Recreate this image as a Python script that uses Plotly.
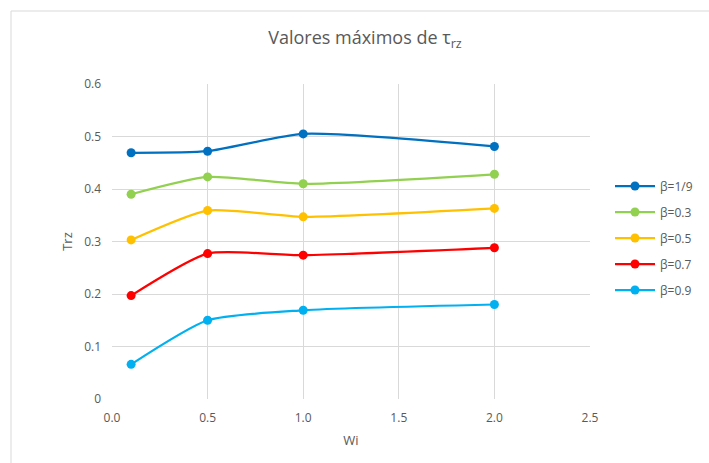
import plotly.graph_objects as go

wi = [0.1, 0.5, 1.0, 2.0]
series_names = ["β=1/9", "β=0.3", "β=0.5", "β=0.7", "β=0.9"]
beta_1_9 = [0.469, 0.472, 0.505, 0.481]
beta_0_3 = [0.390, 0.423, 0.410, 0.428]
beta_0_5 = [0.303, 0.359, 0.347, 0.363]
beta_0_7 = [0.197, 0.277, 0.274, 0.288]
beta_0_9 = [0.066, 0.150, 0.169, 0.180]
colors = ["#0070C0", "#92D050", "#FFC000", "#FF0000", "#00B0F0"]

fig = go.Figure()
for i, (name, vals, c) in enumerate(zip(series_names, [beta_1_9, beta_0_3, beta_0_5, beta_0_7, beta_0_9], colors)):
    fig.add_trace(go.Scatter(
        x=wi, y=vals, name=name, mode="lines+markers", legendgroup=f"g{i}",
        line=dict(color=c, width=2.25, shape="spline", smoothing=0.6),
        marker=dict(color=c, size=9),
    ))

font_fam = "Open Sans, Liberation Sans, sans-serif"
L, R, T, B = 112, 119, 84, 64
W, H = 709, 463
pw, ph = W - L - R, H - T - B

def px(x):
    return (x - L) / pw

def py(y):
    return (H - B - y) / ph

fig.update_layout(
    width=W, height=H,
    margin=dict(l=L, r=R, t=T, b=B, autoexpand=False),
    paper_bgcolor="white", plot_bgcolor="white",
    font=dict(family=font_fam, color="#595959", size=12),
    title=dict(text="Valores máximos de τ<sub>rz</sub>", xref="container", x=365 / W,
               xanchor="center", yref="container", y=1 - 38 / H, yanchor="middle",
               font=dict(size=18, color="#595959")),
    xaxis=dict(range=[0, 2.5], dtick=0.5, tickformat=".1f", showgrid=True,
               gridcolor="#D9D9D9", gridwidth=1, zeroline=False, showline=False,
               ticks="", ticklabelstandoff=10, automargin=False,
               title=dict(text="Wi", font=dict(size=13), standoff=10),
               tickfont=dict(size=12)),
    yaxis=dict(range=[0, 0.6], dtick=0.1, showgrid=True, gridcolor="#D9D9D9",
               gridwidth=1, zeroline=False, showline=False, ticks="",
               ticklabelstandoff=10, automargin=False,
               title=dict(text="Trz", font=dict(size=13), standoff=8),
               tickfont=dict(size=12)),
    legend=dict(xref="container", x=610 / W, xanchor="left",
                yref="container", y=1 - 238 / H, yanchor="middle",
                font=dict(size=12), tracegroupgap=7, itemwidth=40,
                bgcolor="rgba(0,0,0,0)"),
    shapes=[dict(type="rect", xref="paper", yref="paper",
                 x0=px(11), x1=px(730), y0=py(480), y1=py(11),
                 line=dict(color="#D9D9D9", width=1), layer="below")],
    showlegend=True,
)

fig.write_html(
    "out.html",
    config={"displayModeBar": False},
    post_script="document.documentElement.style.margin='0';document.body.style.margin='0';document.body.style.overflow='hidden';",
)
